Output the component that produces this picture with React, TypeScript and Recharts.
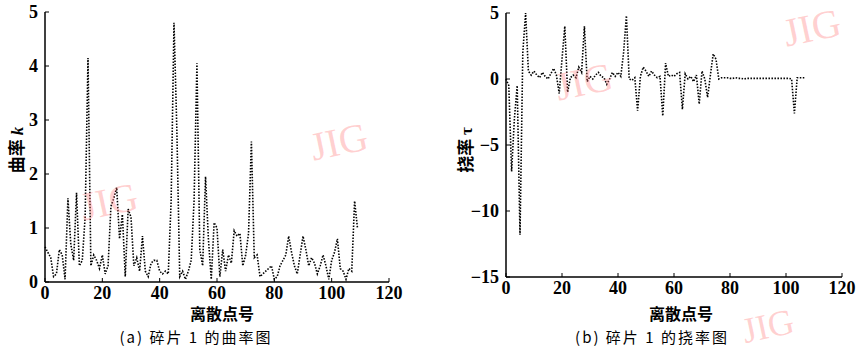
import React from 'react';
import { LineChart, Line, XAxis, YAxis } from 'recharts';

const curvatureK: number[] = [
  0.65, 0.55, 0.45, 0.1, 0.15, 0.6, 0.5, 0.05, 1.55, 0.7,
  0.4, 1.65, 0.3, 0.4, 1.2, 4.15, 0.3, 0.5, 0.4, 0.25,
  0.5, 0.15, 0.3, 1.4, 1.55, 1.75, 0.8, 1.25, 0.1, 1.35,
  1.2, 0.3, 0.45, 0.2, 0.85, 0.2, 0.1, 0.35, 0.4, 0.4,
  0.2, 0.15, 0.2, 0.15, 1.5, 4.8, 2.8, 0.1, 0.2, 0.05,
  0.2, 0.4, 1.5, 4.05, 0.6, 0.3, 1.95, 0.8, 0.05, 1.1,
  1.0, 0.1, 0.6, 0.2, 0.5, 0.35, 0.95, 0.85, 0.9, 0.3,
  0.5, 0.9, 2.6, 0.45, 0.5, 0.1, 0.15, 0.2, 0.25, 0.3,
  0.05, 0.1, 0.3, 0.4, 0.5, 0.85, 0.55, 0.3, 0.15, 0.5,
  0.85, 0.6, 0.3, 0.45, 0.35, 0.15, 0.3, 0.5, 0.3, 0.05,
  0.4, 0.55, 0.8, 0.25, 0.2, 0.05, 0.25, 0.2, 1.5, 1.0,
];

const torsionTau: number[] = [
  0, -0.5, -7, -3, -0.5, -11.8, 2, 5, 0.6, 0.3,
  0.6, 0.3, 0.1, 0.5, 0.2, 0.0, 0.4, 0.8, 0.3, -1.1,
  1.5, 4.0, -1.0, 0.1, 0.3, 0.1, 0.9, 0.5, 4.0, -0.2,
  0.2, 0.0, 0.3, 0.5, 0.2, 0.1, -0.4, 0.0, 0.5, 0.2,
  0.5, 0.2, 2.0, 4.8, 0.0, -0.1, 0.1, -2.4, 0.2, 0.9,
  0.6, 0.2, 0.6, 0.3, 0.1, 0.2, -2.8, 1.2, 0.2, 0.3,
  0.2, 0.4, 0.5, -2.3, 0.4, 0.0, 0.2, -0.2, 0.3, -1.9,
  0.6, 0.0, -1.4, 0.3, 1.9, 1.5, 0.0, 0.1, 0.1, 0.1,
  0.05, 0.05, 0.1, 0.05, 0.05, 0.0, 0.05, 0.05, 0.05, 0.05,
  0.05, 0.05, 0.05, 0.05, 0.05, 0.05, 0.05, 0.05, 0.05, 0.05,
  0.05, 0.05, 0.0, -2.6, 0.1, 0.1, 0.1, 0.1,
];

const xTicks = [0, 20, 40, 60, 80, 100, 120];
const kTicks = [0, 1, 2, 3, 4, 5];
const tauTicks = [-15, -10, -5, 0, 5];

const xLabel = '离散点号';
const captionA = '(a) 碎片 1 的曲率图';
const captionB = '(b) 碎片 1 的挠率图';

const kData = curvatureK.map((v, i) => ({ x: i, k: v }));
const tauData = torsionTau.map((v, i) => ({ x: i, t: v }));

const tickStyle = {
  fontFamily: '"Liberation Serif", "DejaVu Serif", serif',
  fontWeight: 700,
  fontSize: 18,
  fill: '#000',
};

const fmt = (v: number) => String(v).replace('-', '\u2212');

const cjk = '"Noto Sans CJK SC", sans-serif';

const wm: React.CSSProperties = {
  position: 'absolute',
  color: 'rgba(255,120,120,0.35)',
  fontFamily: '"Liberation Serif", serif',
  fontSize: 40,
  transform: 'rotate(-12deg)',
  pointerEvents: 'none',
};

export default function App() {
  return (
    <div style={{ position: 'absolute', left: 0, top: 0, width: 858, height: 355, background: '#fff', overflow: 'hidden' }}>
      <div style={{ position: 'absolute', left: 0, top: 0 }}>
        <LineChart width={412} height={312} data={kData} margin={{ top: 12, right: 23, bottom: 0, left: 0 }}>
          <XAxis dataKey="x" type="number" domain={[0, 120]} ticks={xTicks} height={30}
            axisLine={{ stroke: '#000', strokeWidth: 1.5 }} tickLine={{ stroke: '#000' }}
            tickSize={-4} tickMargin={8} tick={tickStyle} interval={0} />
          <YAxis type="number" domain={[0, 5]} ticks={kTicks} width={45}
            axisLine={{ stroke: '#000', strokeWidth: 1.5 }} tickLine={{ stroke: '#000' }}
            tickSize={-4} tickMargin={11} tick={tickStyle} interval={0} />
          <Line dataKey="k" stroke="#000" strokeWidth={1.6} strokeDasharray="1.5 1.5" dot={false} isAnimationActive={false} type="linear" />
        </LineChart>
      </div>
      <div style={{ position: 'absolute', left: 446, top: 0 }}>
        <LineChart width={412} height={307} data={tauData} margin={{ top: 13, right: 16, bottom: 0, left: 0 }}>
          <XAxis dataKey="x" type="number" domain={[0, 120]} ticks={xTicks} height={30}
            axisLine={{ stroke: '#000', strokeWidth: 1.5 }} tickLine={{ stroke: '#000' }}
            tickSize={-4} tickMargin={8} tick={tickStyle} interval={0} />
          <YAxis type="number" domain={[-15, 5]} ticks={tauTicks} width={60}
            axisLine={{ stroke: '#000', strokeWidth: 1.5 }} tickLine={{ stroke: '#000' }}
            tickSize={-4} tickMargin={11} tick={tickStyle} interval={0} tickFormatter={fmt} />
          <Line dataKey="t" stroke="#000" strokeWidth={1.6} strokeDasharray="1.5 1.5" dot={false} isAnimationActive={false} type="linear" />
        </LineChart>
      </div>

      <div style={{ position: 'absolute', left: 15, top: 150, transform: 'translate(-50%, -50%) rotate(-90deg)', whiteSpace: 'nowrap', fontFamily: cjk, fontWeight: 700, fontSize: 17 }}>
        曲率 <span style={{ fontFamily: '"Liberation Serif", serif', fontStyle: 'italic' }}>k</span>
      </div>
      <div style={{ position: 'absolute', left: 464, top: 150, transform: 'translate(-50%, -50%) rotate(-90deg)', whiteSpace: 'nowrap', fontFamily: cjk, fontWeight: 700, fontSize: 17 }}>
        挠率 <span style={{ fontFamily: '"Liberation Serif", serif' }}>τ</span>
      </div>

      <div style={{ position: 'absolute', left: 222, top: 313, transform: 'translate(-50%, -50%)', whiteSpace: 'nowrap', fontFamily: cjk, fontWeight: 700, fontSize: 16, lineHeight: '18px' }}>{xLabel}</div>
      <div style={{ position: 'absolute', left: 681, top: 313, transform: 'translate(-50%, -50%)', whiteSpace: 'nowrap', fontFamily: cjk, fontWeight: 700, fontSize: 16, lineHeight: '18px' }}>{xLabel}</div>

      <div style={{ position: 'absolute', left: 196, top: 337, transform: 'translate(-50%, -50%)', whiteSpace: 'nowrap', fontFamily: cjk, fontSize: 15, letterSpacing: 2, lineHeight: '18px' }}>{captionA}</div>
      <div style={{ position: 'absolute', left: 652, top: 337, transform: 'translate(-50%, -50%)', whiteSpace: 'nowrap', fontFamily: cjk, fontSize: 15, letterSpacing: 2, lineHeight: '18px' }}>{captionB}</div>

      <div style={{ ...wm, left: 310, top: 118 }}>JIG</div>
      <div style={{ ...wm, left: 80, top: 178 }}>JIG</div>
      <div style={{ ...wm, left: 555, top: 58 }}>JIG</div>
      <div style={{ ...wm, left: 783, top: 4 }}>JIG</div>
      <div style={{ ...wm, left: 742, top: 305, fontSize: 36 }}>JIG</div>
    </div>
  );
}
